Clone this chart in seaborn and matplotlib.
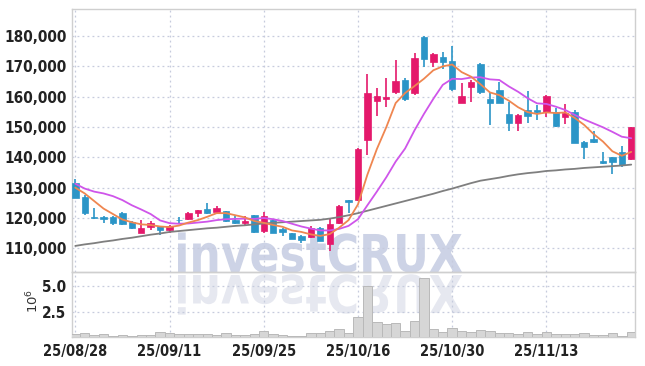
import numpy as np
import pandas as pd
import matplotlib
matplotlib.use("Agg")
import matplotlib.pyplot as plt
import seaborn as sns
from matplotlib.textpath import TextPath
from matplotlib.patches import PathPatch
from matplotlib.font_manager import FontProperties
from matplotlib.transforms import Affine2D, IdentityTransform

# ---------------- data (prices in thousand won, volume in millions) ----------------
tick_days = [0, 10, 20, 30, 40, 50]
tick_labels = ["25/08/28", "25/09/11", "25/09/25", "25/10/16", "25/10/30", "25/11/13"]

open_k = [131.5, 127.0, 120.3, 120.4, 120.4, 121.7, 118.7, 115.2, 117.1, 117.3,
          116.0, 119.5, 119.8, 121.5, 122.9, 122.0, 122.2, 119.4, 118.4, 120.9,
          115.7, 119.3, 116.4, 114.9, 114.0, 113.7, 116.6, 111.3, 118.4, 125.8,
          125.9, 145.7, 158.6, 159.1, 161.5, 165.5, 161.3, 179.8, 171.5, 173.0,
          171.8, 158.0, 163.3, 170.8, 159.2, 162.2, 154.3, 151.4, 155.6, 155.6,
          155.0, 155.0, 153.4, 155.0, 145.0, 146.2, 138.7, 140.0, 141.8, 139.3]
high_k = [133.0, 127.5, 123.3, 120.7, 120.6, 121.9, 118.9, 119.3, 119.0, 117.5,
          117.6, 120.3, 122.0, 122.8, 124.8, 124.0, 122.4, 120.5, 120.5, 121.0,
          122.0, 119.6, 116.8, 115.2, 114.3, 117.5, 117.0, 119.8, 124.2, 126.0,
          143.0, 167.4, 162.7, 166.2, 172.0, 166.2, 174.5, 180.0, 174.3, 174.8,
          176.8, 164.4, 165.5, 171.0, 161.6, 164.9, 158.3, 154.3, 162.0, 157.2,
          160.5, 156.1, 157.6, 155.6, 145.5, 148.8, 141.8, 140.2, 143.7, 150.0]
low_k = [126.5, 121.0, 119.6, 118.2, 117.7, 117.7, 116.5, 115.0, 116.0, 114.3,
         115.0, 118.0, 119.3, 120.3, 121.3, 121.5, 118.8, 118.0, 117.5, 115.0,
         114.9, 115.0, 114.0, 113.0, 111.6, 113.5, 112.3, 109.0, 118.0, 121.5,
         125.5, 140.7, 153.6, 156.5, 160.8, 158.7, 160.5, 169.7, 169.9, 169.0,
         162.0, 157.8, 158.3, 161.0, 150.6, 157.8, 148.6, 148.7, 151.2, 152.3,
         153.4, 150.0, 151.0, 144.6, 139.3, 144.6, 137.9, 134.4, 136.7, 139.0]
close_k = [126.7, 121.5, 120.0, 119.7, 118.4, 118.1, 116.7, 116.7, 118.4, 116.0,
           117.3, 119.2, 121.5, 122.6, 121.5, 123.3, 119.0, 118.2, 119.0, 115.4,
           120.6, 115.1, 115.3, 113.1, 112.9, 116.8, 112.4, 118.1, 123.9, 125.4,
           142.9, 161.1, 160.2, 160.0, 165.2, 159.3, 172.6, 172.3, 174.1, 171.5,
           162.4, 160.2, 164.9, 161.6, 157.8, 158.0, 151.2, 153.9, 153.6, 154.8,
           160.3, 150.4, 154.7, 144.8, 143.5, 144.9, 138.2, 138.5, 137.4, 149.9]
ma5_k = [130.0, 128.1, 125.6, 123.1, 121.3, 119.5, 118.6, 117.9, 117.7, 117.2,
         117.0, 117.5, 118.5, 119.3, 120.4, 121.6, 121.6, 120.9, 120.2, 119.0,
         118.4, 117.7, 117.1, 115.9, 115.4, 114.6, 114.1, 114.7, 116.8, 119.3,
         124.5, 134.3, 142.7, 149.9, 157.9, 161.2, 163.5, 165.9, 168.7, 170.0,
         170.6, 168.1, 166.6, 164.1, 161.4, 160.5, 158.7, 156.5, 154.9, 154.3,
         154.8, 154.6, 154.8, 153.0, 150.7, 147.7, 145.2, 142.0, 140.5, 141.8]
ma10_k = [131.3, 129.7, 128.7, 128.1, 127.2, 125.9, 124.2, 122.8, 121.3, 119.2,
          118.3, 118.1, 118.2, 118.5, 118.8, 119.3, 119.6, 119.7, 119.8, 119.7,
          120.0, 119.6, 119.0, 118.1, 117.2, 116.5, 115.9, 115.9, 116.4, 117.4,
          119.6, 124.2, 128.7, 133.4, 138.6, 142.9, 148.9, 154.3, 159.3, 163.9,
          165.9, 165.8, 166.3, 166.4, 165.7, 165.5, 163.4, 161.6, 159.5, 157.8,
          157.6, 156.7, 155.6, 154.0, 152.5, 151.2, 149.9, 148.4, 146.8, 146.3]
ma_long_k = [110.8, 111.3, 111.7, 112.2, 112.6, 113.1, 113.5, 114.0, 114.5, 114.9,
             115.4, 115.7, 116.0, 116.3, 116.6, 116.8, 117.1, 117.4, 117.6, 117.9,
             118.2, 118.4, 118.6, 118.8, 119.0, 119.2, 119.4, 119.8, 120.3, 120.9,
             121.6, 122.4, 123.2, 124.0, 124.8, 125.6, 126.4, 127.2, 128.0, 128.9,
             129.7, 130.6, 131.5, 132.3, 132.8, 133.3, 133.9, 134.4, 134.8, 135.1,
             135.5, 135.7, 136.0, 136.2, 136.5, 136.7, 136.9, 137.1, 137.3, 137.6]
volume_m = [0.41, 0.56, 0.31, 0.45, 0.26, 0.36, 0.26, 0.31, 0.36, 0.63,
            0.53, 0.41, 0.41, 0.41, 0.41, 0.34, 0.53, 0.34, 0.34, 0.47,
            0.72, 0.44, 0.31, 0.28, 0.28, 0.50, 0.53, 0.72, 0.91, 0.50,
            2.02, 5.00, 1.55, 1.39, 1.44, 0.72, 1.64, 5.73, 0.88, 0.63,
            0.98, 0.69, 0.60, 0.78, 0.69, 0.50, 0.50, 0.41, 0.60, 0.44,
            0.63, 0.41, 0.41, 0.41, 0.50, 0.31, 0.31, 0.50, 0.26, 0.60]
price_ticks_k = [110, 120, 130, 140, 150, 160, 170, 180]
vol_ticks = [2.5, 5.0]

# ---------------- style ----------------
sns.set_theme(style="white")
plt.rcParams["font.family"] = ["DejaVu Sans"]

YFONT = FontProperties(family="DejaVu Sans", stretch="condensed", weight="bold", size=11)
XFONT = FontProperties(family="DejaVu Sans", stretch="condensed", weight="bold", size=10.5)

RED = "#e4196b"
BLUE = "#2b95c7"
GRID = "#c6cbdd"
SPINE = "#cfcfcf"
TXT = "#222222"

W, H = 645, 366
fig = plt.figure(figsize=(W / 100, H / 100), dpi=100)
L, R = 72 / W, 635 / W
ax = fig.add_axes([L, 1 - 272.3 / H, R - L, (272.3 - 9.3) / H])
axv = fig.add_axes([L, 1 - 336.7 / H, R - L, (336.7 - 272.3) / H], sharex=ax)
for a in (ax, axv):
    a.set_facecolor("none")
    for s in a.spines.values():
        s.set_color(SPINE)
        s.set_linewidth(1.0)

days = np.arange(len(close_k))
o = np.array(open_k) * 1000
c = np.array(close_k) * 1000
hi = np.array(high_k) * 1000
lo = np.array(low_k) * 1000
up = c >= o
cols = np.where(up, RED, BLUE)

# moving averages via seaborn
ma_df = pd.DataFrame({
    "day": np.concatenate([days, days, days]),
    "value": np.concatenate([np.array(ma_long_k), np.array(ma10_k), np.array(ma5_k)]) * 1000,
    "ma": ["long"] * len(days) + ["ma10"] * len(days) + ["ma5"] * len(days),
})
sns.lineplot(data=ma_df, x="day", y="value", hue="ma",
             palette={"long": "#7f7f7f", "ma10": "#cf55ea", "ma5": "#ef8650"},
             linewidth=1.3, legend=False, ax=ax, zorder=4)

# candles
ax.vlines(days, lo, hi, colors=cols, linewidth=1.2, zorder=2)
body_h = np.maximum(np.abs(c - o), 250)
ax.bar(days, body_h, bottom=np.minimum(o, c), width=0.68, color=cols,
       edgecolor=cols, linewidth=0.5, zorder=3)

ax.set_xlim(-0.35, 59.4)
ax.set_ylim(102100, 188800)
ax.set_yticks([v * 1000 for v in price_ticks_k])
ax.set_yticklabels([f"{v * 1000:,}" for v in price_ticks_k])
ax.set_xticks(tick_days)
ax.tick_params(axis="x", labelbottom=False, length=0)
ax.tick_params(axis="y", length=0, pad=4, labelcolor=TXT)
for lab in ax.get_yticklabels():
    lab.set_fontproperties(YFONT)
ax.grid(True, color=GRID, linestyle=(0, (1.5, 2.5)), linewidth=0.9)
ax.set_xlabel("")
ax.set_ylabel("")

# volume
axv.bar(days, volume_m, width=1.0, color="#d6d6d6", edgecolor="#b9b9b9",
        linewidth=0.7, zorder=3)
axv.set_ylim(0.18, 6.28)
axv.set_yticks(vol_ticks)
axv.set_yticklabels([f"{v:.1f}" for v in vol_ticks])
axv.set_xticks(tick_days)
axv.set_xticklabels(tick_labels)
axv.tick_params(axis="both", length=0, labelcolor=TXT)
axv.tick_params(axis="x", pad=5)
axv.tick_params(axis="y", pad=4)
for lab in axv.get_yticklabels():
    lab.set_fontproperties(YFONT)
for lab in axv.get_xticklabels():
    lab.set_fontproperties(XFONT)
axv.grid(True, color=GRID, linestyle=(0, (1.5, 2.5)), linewidth=0.9)
axv.set_xlabel("")
axv.set_ylabel("")
fig.text(33 / W, 1 - 301 / H, r"$10^6$", rotation=90, ha="center", va="center",
         fontsize=9.5, color="#333333")

# watermark with reflection
prop = FontProperties(family="DejaVu Sans", weight="bold")
tp = TextPath((0, 0), "investCRUX", size=100, prop=prop)
ext = tp.get_extents()
sx = (462 - 178) / ext.width
sy = 38 / 72.9
base = H - 272
wm = PathPatch(tp, facecolor="#cdd3e6", edgecolor="none", zorder=-1)
wm_r = PathPatch(tp, facecolor="#e6e8f0", edgecolor="none", zorder=-1)
wm.set_transform(Affine2D().translate(-ext.x0, 0).scale(sx, sy).translate(178, base) + IdentityTransform())
wm_r.set_transform(Affine2D().translate(-ext.x0, 0).scale(sx, -sy).translate(178, base - 3) + IdentityTransform())
fig.add_artist(wm)
fig.add_artist(wm_r)

fig.savefig("out.png", dpi=100)
